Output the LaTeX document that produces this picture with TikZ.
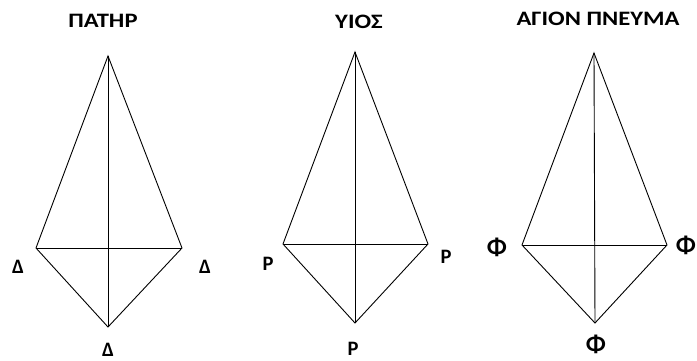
\documentclass[tikz,border=0pt]{standalone}
\usepackage{graphicx}
\usepackage{fontspec}
\setmainfont{Carlito}
\newcommand{\widettl}[1]{\scalebox{1.2}[1]{#1}}
\begin{document}
\begin{tikzpicture}[x=1pt,y=-1pt,
  edge/.style={draw=black,line width=0.9pt},
  ttl/.style={font=\bfseries\fontsize{20.5}{24}\selectfont,inner sep=0pt,anchor=base},
  lbl/.style={font=\bfseries\fontsize{20.5}{24}\selectfont,inner sep=0pt,anchor=base},
  philbl/.style={font=\bfseries\fontsize{25}{28}\selectfont,inner sep=0pt,anchor=base}]
\useasboundingbox (0,0) rectangle (697,360);
\fill[white] (0,0) rectangle (697,360);
% Kite 1
\coordinate (t1) at (108,56);
\coordinate (l1) at (36,248);
\coordinate (r1) at (182,248);
\coordinate (b1) at (108,327);
\draw[edge] (t1) -- (l1) -- (b1) -- (r1) -- cycle;
\draw[edge] (l1) -- (r1);
\draw[edge] (t1) -- (b1);
\node[ttl] (h1) at (103,27) {\widettl{ΠΑΤΗΡ}};
\node[lbl] (a1) at (18,273) {Δ};
\node[lbl] (a2) at (205,273) {Δ};
\node[lbl] (a3) at (108,356) {Δ};
% Kite 2
\coordinate (t2) at (355,52);
\coordinate (l2) at (283,244);
\coordinate (r2) at (428,244);
\coordinate (b2) at (355,323);
\draw[edge] (t2) -- (l2) -- (b2) -- (r2) -- cycle;
\draw[edge] (l2) -- (r2);
\draw[edge] (t2) -- (b2);
\node[ttl] (h2) at (359,28) {\widettl{ΥΙΟΣ}};
\node[lbl] (c1) at (268,270) {Ρ};
\node[lbl] (c2) at (446,263) {Ρ};
\node[lbl] (c3) at (353,355) {Ρ};
% Kite 3
\coordinate (t3) at (594,53);
\coordinate (l3) at (522,245);
\coordinate (r3) at (667,245);
\coordinate (b3) at (595,323);
\draw[edge] (t3) -- (l3) -- (b3) -- (r3) -- cycle;
\draw[edge] (l3) -- (r3);
\draw[edge] (t3) -- (b3);
\node[ttl] (h3) at (598,25) {\widettl{ΑΓΙΟΝ ΠΝΕΥΜΑ}};
\node[philbl] (f1) at (497,255) {Φ};
\node[philbl] (f2) at (686,253) {Φ};
\node[philbl] (f3) at (596,352) {Φ};
\end{tikzpicture}
\end{document}
